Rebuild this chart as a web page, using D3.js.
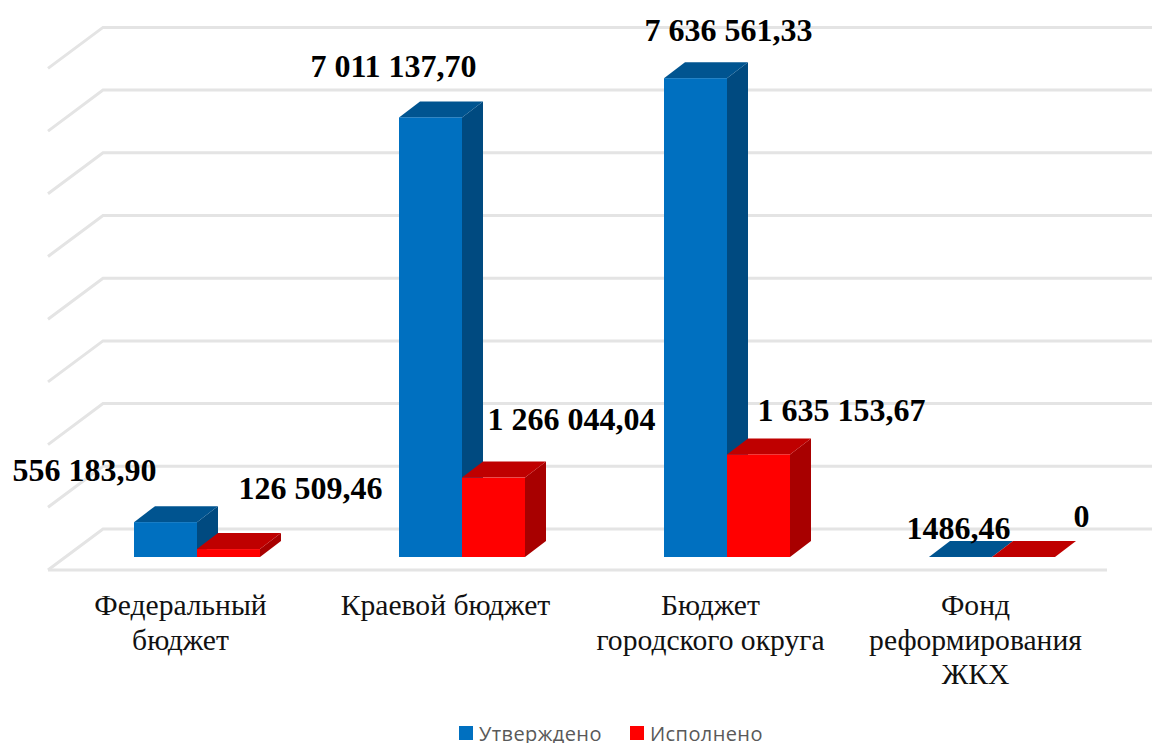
<!DOCTYPE html>
<html>
<head>
<meta charset="utf-8">
<script src="https://cdn.jsdelivr.net/npm/d3@7"></script>
<style>
    html, body { margin: 0; padding: 0; background: #fff; overflow: hidden; }
    svg { display: block; }
</style>
</head>
<body>
<div id="chart"></div>
<script>
let categories = ["Федеральный бюджет", "Краевой бюджет", "Бюджет городского округа", "Фонд реформирования ЖКХ"];
let seriesNames = ["Утверждено", "Исполнено"];
let approved = [556183.90, 7011137.70, 7636561.33, 1486.46];
let executed = [126509.46, 1266044.04, 1635153.67, 0];
let approvedLabels = ["556 183,90", "7 011 137,70", "7 636 561,33", "1486,46"];
let executedLabels = ["126 509,46", "1 266 044,04", "1 635 153,67", "0"];
let categoryLines = [["Федеральный", "бюджет"], ["Краевой бюджет"], ["Бюджет", "городского округа"], ["Фонд", "реформирования", "ЖКХ"]];

function chartConfig(){
    let width = 1152, height = 743;
    let svg = d3.select("#chart").append("svg")
                .attr("width", width)
                .attr("height", height);
    // depth of the 3d box and of one bar
    let wall = { dx: 55, dy: -41 };
    let bar = { dx: 21, dy: -16 };
    return { width, height, svg, wall, bar, baseY: 557, floorY: 570 };
}

function chartScales(config){
    let yScale = d3.scaleLinear().domain([0, 8000000]).range([config.baseY, config.baseY - 501.6]);
    let xScale = d3.scaleBand().domain(categories).range([64.5, 1124.5]);
    let inner = d3.scaleBand().domain(seriesNames)
                .range([xScale.bandwidth() / 2 - 63, xScale.bandwidth() / 2 + 63]);
    let colors = {
        "Утверждено": { front: "#0070c0", top: "#005490", side: "#004a80" },
        "Исполнено": { front: "#ff0000", top: "#bf0000", side: "#a80000" }
    };
    return { xScale, yScale, inner, colors };
}

function drawGrid(config, scales){
    let { svg, wall, floorY, baseY, width } = config;
    let g = svg.append("g")
                .attr("stroke", "#e4e4e4")
                .attr("stroke-width", 3)
                .attr("fill", "none");
    let left = 48;
    scales.yScale.ticks(8).forEach(v => {
        let y = scales.yScale(v) - baseY + floorY;
        g.append("polyline")
            .attr("points", [[left, y], [left + wall.dx, y + wall.dy], [width, y + wall.dy]].join(" "));
    });
    g.append("line")
        .attr("x1", left).attr("x2", 1107)
        .attr("y1", floorY).attr("y2", floorY);
}

function drawBars(config, scales){
    let { svg, bar, baseY } = config;
    let { xScale, yScale, inner, colors } = scales;
    let rows = [];
    categories.forEach((c, i) => {
        rows.push({ category: c, series: seriesNames[0], value: approved[i] });
        rows.push({ category: c, series: seriesNames[1], value: executed[i] });
    });
    let groups = svg.append("g").selectAll("g")
                .data(rows)
                .enter()
                .append("g");
    let x0 = d => xScale(d.category) + inner(d.series);
    let x1 = d => x0(d) + inner.bandwidth();
    groups.append("path")
        .attr("fill", d => colors[d.series].side)
        .attr("d", d => {
            let t = yScale(d.value);
            return "M" + [x1(d), t] + "L" + [x1(d) + bar.dx, t + bar.dy]
                + "L" + [x1(d) + bar.dx, baseY + bar.dy] + "L" + [x1(d), baseY] + "Z";
        });
    groups.append("path")
        .attr("fill", d => colors[d.series].top)
        .attr("d", d => {
            let t = yScale(d.value);
            return "M" + [x0(d), t] + "L" + [x1(d), t]
                + "L" + [x1(d) + bar.dx, t + bar.dy] + "L" + [x0(d) + bar.dx, t + bar.dy] + "Z";
        });
    groups.append("rect")
        .attr("x", x0)
        .attr("y", d => yScale(d.value))
        .attr("width", inner.bandwidth())
        .attr("height", d => baseY - yScale(d.value))
        .attr("fill", d => colors[d.series].front);
}

function drawLabels(config, scales){
    let { svg } = config;
    let { xScale, yScale, inner } = scales;
    // labels were placed by hand in the original, so nudge each from its bar top
    let nudgeA = [[-81, -41], [-37, -40], [33, -37], [-2, -18]];
    let nudgeB = [[82, -50], [78, -48], [83, -33], [58, -30]];
    let put = (text, cat, series, value, nudge) => {
        svg.append("text")
            .attr("x", xScale(cat) + inner(series) + inner.bandwidth() / 2 + nudge[0])
            .attr("y", yScale(value) + nudge[1])
            .attr("text-anchor", "middle")
            .style("font-family", "'Liberation Serif', serif")
            .style("font-weight", "bold")
            .style("font-size", "32px")
            .style("fill", "#000")
            .text(text);
    };
    categories.forEach((c, i) => {
        put(approvedLabels[i], c, seriesNames[0], approved[i], nudgeA[i]);
        put(executedLabels[i], c, seriesNames[1], executed[i], nudgeB[i]);
    });
}

function drawAxis(config, scales){
    let { svg } = config;
    let { xScale } = scales;
    let axis = d3.axisBottom(xScale).tickSize(0).tickFormat("");
    let g = svg.append("g")
                .attr("transform", "translate(-16.5,0)")
                .call(axis);
    g.select(".domain").remove();
    g.selectAll(".tick text").each(function(d, i){
        let t = d3.select(this)
                .attr("y", 615)
                .attr("dy", null)
                .style("font-family", "'Liberation Serif', serif")
                .style("font-size", "29.6px")
                .style("fill", "#111");
        categoryLines[i].forEach((line, k) => {
            t.append("tspan")
                .attr("x", 0)
                .attr("y", 615 + k * 34.5)
                .text(line);
        });
    });
}

function drawLegend(config, scales){
    let { svg } = config;
    let swatchX = [459, 630];
    seriesNames.forEach((name, i) => {
        svg.append("rect")
            .attr("x", swatchX[i])
            .attr("y", 726)
            .attr("width", 14)
            .attr("height", 14)
            .attr("fill", scales.colors[name].front);
        svg.append("text")
            .attr("x", swatchX[i] + 20)
            .attr("y", 741)
            .style("font-family", "'Open Sans', sans-serif")
            .style("font-size", "20px")
            .style("letter-spacing", "0.4px")
            .style("fill", "#595959")
            .text(name);
    });
}

let config = chartConfig();
let scales = chartScales(config);
drawGrid(config, scales);
drawBars(config, scales);
drawLabels(config, scales);
drawAxis(config, scales);
drawLegend(config, scales);
</script>
</body>
</html>
